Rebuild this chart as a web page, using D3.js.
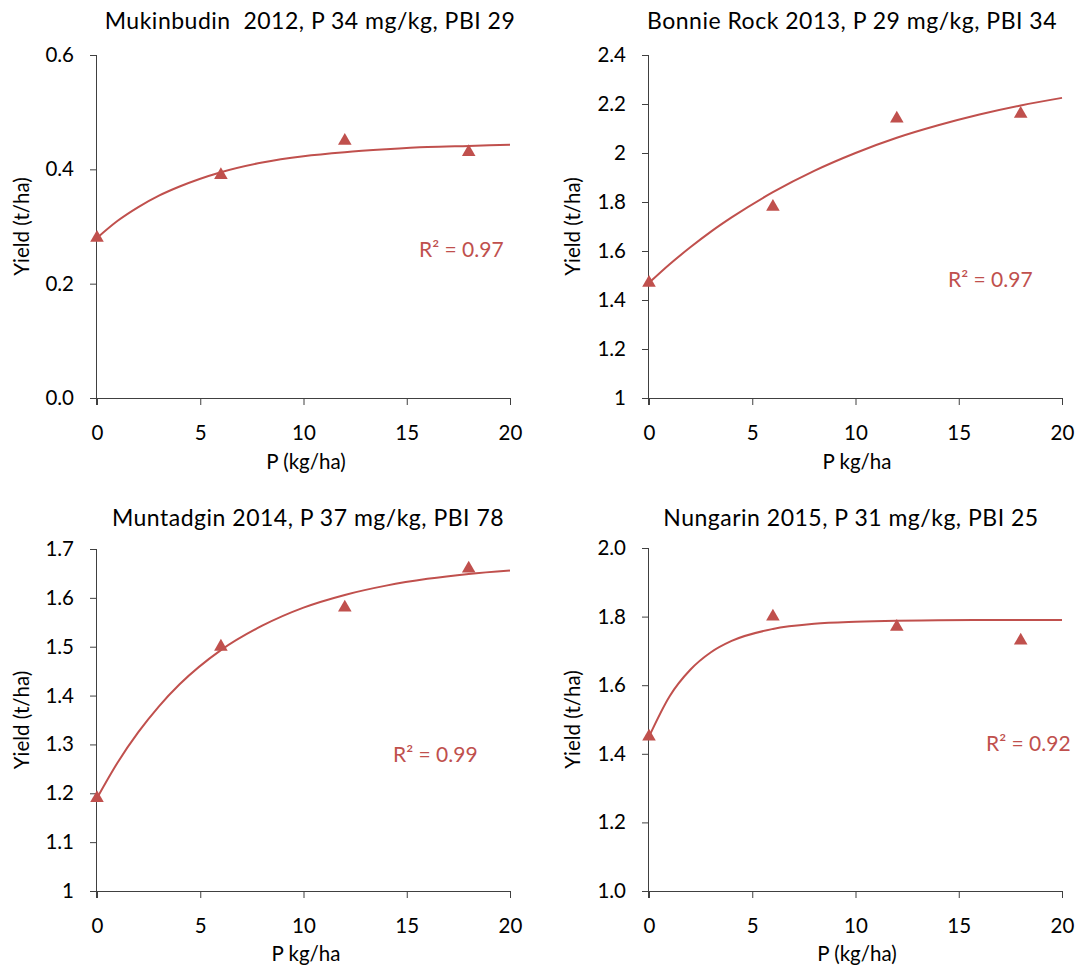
<!DOCTYPE html>
<html>
<head>
<meta charset="utf-8">
<title>P response curves</title>
<script src="https://cdn.jsdelivr.net/npm/d3@7"></script>
<style type="text/css">
body {
	margin: 0;
	background: #fff;
}
svg text {
	font-family: Lato, "Open Sans", sans-serif;
	fill: #000;
}
.axis path, .axis line {
	stroke: #404040;
	stroke-width: 1;
}
</style>
</head>
<body>
<div id="chart"></div>

<script type="text/javascript">
	// data
	var doses = [ 0, 6, 12, 18 ];
	var xTicks = [ 0, 5, 10, 15, 20 ];
	var curveX = [ 0, 1, 2, 3, 4, 6, 8, 10, 12, 14, 16, 18, 20 ];

	var titles = [ 'Mukinbudin  2012, P 34 mg/kg, PBI 29',
			'Bonnie Rock 2013, P 29 mg/kg, PBI 34',
			'Muntadgin 2014, P 37 mg/kg, PBI 78',
			'Nungarin 2015, P 31 mg/kg, PBI 25' ];
	var xTitles = [ 'P (kg/ha)', 'P kg/ha', 'P kg/ha', 'P (kg/ha)' ];
	var yTitle = 'Yield (t/ha)';
	var r2Labels = [ 'R² = 0.97', 'R² = 0.97', 'R² = 0.99', 'R² = 0.92' ];

	var yields1 = [ 0.28, 0.39, 0.45, 0.43 ];
	var yields2 = [ 1.47, 1.78, 2.14, 2.16 ];
	var yields3 = [ 1.19, 1.50, 1.58, 1.66 ];
	var yields4 = [ 1.45, 1.80, 1.77, 1.73 ];

	// fitted trend line, read at curveX
	var fit1 = [ 0.280, 0.310, 0.334, 0.354, 0.370, 0.395, 0.412, 0.423, 0.430, 0.435, 0.439, 0.441, 0.443 ];
	var fit2 = [ 1.470, 1.546, 1.615, 1.679, 1.737, 1.840, 1.927, 2.000, 2.062, 2.113, 2.157, 2.194, 2.225 ];
	var fit3 = [ 1.190, 1.263, 1.325, 1.378, 1.423, 1.493, 1.543, 1.580, 1.606, 1.625, 1.639, 1.649, 1.656 ];
	var fit4 = [ 1.450, 1.568, 1.645, 1.696, 1.729, 1.764, 1.779, 1.785, 1.788, 1.789, 1.790, 1.790, 1.790 ];

	var yTicks1 = [ 0, 0.2, 0.4, 0.6 ];
	var yTicks2 = [ 1, 1.2, 1.4, 1.6, 1.8, 2, 2.2, 2.4 ];
	var yTicks3 = [ 1, 1.1, 1.2, 1.3, 1.4, 1.5, 1.6, 1.7 ];
	var yTicks4 = [ 1, 1.2, 1.4, 1.6, 1.8, 2 ];
	var yFormats = [ '.1f', '', '', '.1f' ];

	var red = '#c0504d';

	// plot boxes (pixel layout)
	var boxes = [
		{ x0: 97, x1: 510, y0: 55, y1: 398, tx: 310, ty: 29, ax: 22, xt: 306, xb: 469, rx: 419, ry: 257 },
		{ x0: 649, x1: 1062, y0: 55, y1: 398, tx: 852, ty: 29, ax: 573, xt: 857, xb: 469, rx: 948, ry: 287 },
		{ x0: 97, x1: 510, y0: 549, y1: 891, tx: 308, ty: 526, ax: 22, xt: 306, xb: 961, rx: 393, ry: 762 },
		{ x0: 649, x1: 1062, y0: 548, y1: 891, tx: 851, ty: 526, ax: 573, xt: 857, xb: 961, rx: 986, ry: 751 } ];

	var yieldSets = [ yields1, yields2, yields3, yields4 ];
	var fitSets = [ fit1, fit2, fit3, fit4 ];
	var tickSets = [ yTicks1, yTicks2, yTicks3, yTicks4 ];

	var svg = d3.select('#chart').append('svg')
			.attr('width', 1081).attr('height', 969);

	function panel(i) {
		var b = boxes[i], yt = tickSets[i];

		var x = d3.scaleLinear().domain([ 0, 20 ]).range([ b.x0, b.x1 ]);
		var y = d3.scaleLinear().domain(d3.extent(yt)).range([ b.y1, b.y0 ]);

		var g = svg.append('g');

		g.append('g').attr('class', 'axis')
				.attr('transform', 'translate(0,' + b.y1 + ')')
				.call(d3.axisBottom(x).tickValues(xTicks).tickSize(7).tickPadding(20).tickSizeOuter(0))
				.call(function(a) {
					a.select('.domain').attr('d', 'M' + (b.x0 - 7) + ',0.5H' + b.x1);
					a.selectAll('text').attr('font-size', 20.5);
				});

		var fmt = yFormats[i] ? d3.format(yFormats[i]) : function(d) { return '' + d; };
		g.append('g').attr('class', 'axis')
				.attr('transform', 'translate(' + b.x0 + ',0)')
				.call(d3.axisLeft(y).tickValues(yt).tickFormat(fmt).tickSize(7).tickPadding(16).tickSizeOuter(0))
				.call(function(a) {
					a.select('.domain').attr('d', 'M-0.5,' + b.y0 + 'V' + (b.y1 + 7));
					a.selectAll('text').attr('font-size', 20.5);
				});

		// trend line
		var line = d3.line()
				.x(function(d, k) { return x(curveX[k]); })
				.y(function(d) { return y(d); })
				.curve(d3.curveMonotoneX);
		g.append('path').datum(fitSets[i])
				.attr('d', line)
				.attr('fill', 'none')
				.attr('stroke', red)
				.attr('stroke-width', 2);

		// markers
		g.selectAll('path.pt').data(yieldSets[i]).enter()
				.append('path').attr('class', 'pt')
				.attr('d', d3.symbol().type(d3.symbolTriangle).size(80))
				.attr('transform', function(d, k) {
					return 'translate(' + x(doses[k]) + ',' + y(d) + ')';
				})
				.attr('fill', red);

		g.append('text').attr('x', b.tx).attr('y', b.ty)
				.attr('text-anchor', 'middle').attr('font-size', 23)
				.attr('letter-spacing', 0.5)
				.style('white-space', 'pre')
				.text(titles[i]);

		g.append('text').attr('x', b.xt).attr('y', b.xb)
				.attr('text-anchor', 'middle').attr('font-size', 20.5)
				.text(xTitles[i]);

		g.append('text')
				.attr('transform', 'translate(' + (b.ax + 7) + ',' + ((b.y0 + b.y1) / 2) + ') rotate(-90)')
				.attr('text-anchor', 'middle').attr('font-size', 20.5)
				.text(yTitle);

		g.append('text').attr('x', b.rx).attr('y', b.ry)
				.attr('font-size', 21)
				.style('fill', red)
				.text(r2Labels[i]);
	}

	[ 0, 1, 2, 3 ].forEach(panel);
</script>
</body>
</html>
